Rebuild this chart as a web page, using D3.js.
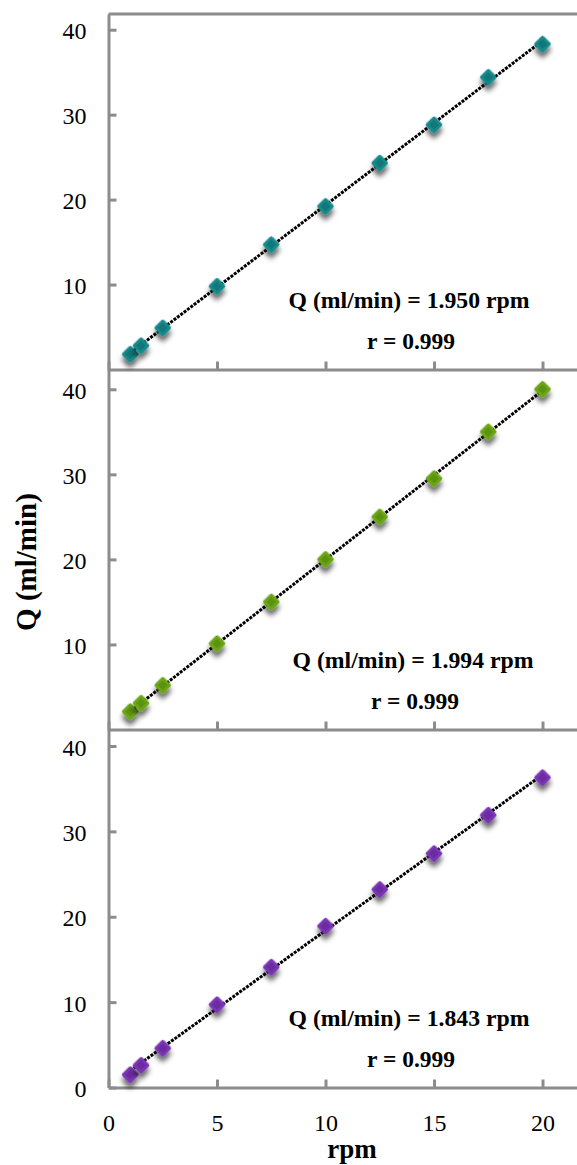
<!DOCTYPE html>
<html>
<head>
<meta charset="utf-8">
<script src="https://cdn.jsdelivr.net/npm/d3@7"></script>
<style>
  html, body { margin: 0; padding: 0; background: #fff; }
  svg { display: block; }
  text { font-family: "Liberation Serif", "Times New Roman", serif; }
</style>
</head>
<body>
<script>
// ---- data ----
const rpm = [1, 1.5, 2.5, 5, 7.5, 10, 12.5, 15, 17.5, 20];
const qTeal = [1.8, 2.8, 4.9, 9.8, 14.7, 19.2, 24.3, 28.8, 34.4, 38.3];
const qGreen = [2.1, 3.1, 5.2, 10.1, 15.0, 20.0, 25.0, 29.5, 35.0, 40.0];
const qPurple = [1.5, 2.6, 4.6, 9.7, 14.1, 18.9, 23.2, 27.4, 31.9, 36.3];
const equations = ["Q (ml/min) = 1.950 rpm", "Q (ml/min) = 1.994 rpm", "Q (ml/min) = 1.843 rpm"];
const rLabels = ["r = 0.999", "r = 0.999", "r = 0.999"];
const xTicks = [0, 5, 10, 15, 20];
const yTicksUpper = [10, 20, 30, 40];
const yTicksBottom = [0, 10, 20, 30, 40];
const xTitle = "rpm";
const yTitle = "Q (ml/min)";

// ---- layout ----
const W = 577, H = 1165;
const colors = [
  { fill: "#13898b", dark: "#0b6667" },
  { fill: "#6ba513", dark: "#4f7f09" },
  { fill: "#7a34b3", dark: "#5c2190" }
];
const panels = [
  { data: qTeal, y0: 369.5, y40: 29.7, top: 14, yTicks: yTicksUpper, eqX: 409, rX: 411, showX: false },
  { data: qGreen, y0: 729.5, y40: 389.3, top: 369, yTicks: yTicksUpper, eqX: 413, rX: 415, showX: false },
  { data: qPurple, y0: 1087.5, y40: 746, top: 729, yTicks: yTicksBottom, eqX: 409, rX: 411, showX: true }
];
const AXIS = "#8c8c8c";
const FONT = "'Liberation Serif', 'Times New Roman', serif";

const svg = d3.select("body").append("svg").attr("width", W).attr("height", H);
svg.append("rect").attr("width", W).attr("height", H).attr("fill", "#fff");

const defs = svg.append("defs");
const f = defs.append("filter").attr("id", "shadow")
  .attr("x", "-60%").attr("y", "-60%").attr("width", "240%").attr("height", "240%");
f.append("feDropShadow").attr("dx", 3.8).attr("dy", 3.8).attr("stdDeviation", 2.5)
  .attr("flood-color", "#000").attr("flood-opacity", 0.6);

const x = d3.scaleLinear().domain([0, 22]).range([108.5, 108.5 + 22 * 21.7]);

// top border of top panel
svg.append("line").attr("x1", x(0)).attr("x2", W).attr("y1", 14).attr("y2", 14)
  .attr("stroke", AXIS).attr("stroke-width", 3);

panels.forEach((p, i) => {
  const y = d3.scaleLinear().domain([0, 40]).range([p.y0, p.y40]);
  const g = svg.append("g");

  // x axis
  const xa = d3.axisBottom(x).tickValues(xTicks).tickSizeInner(-8).tickSizeOuter(0).tickPadding(22)
    .tickFormat(p.showX ? d3.format("d") : () => "");
  const gx = g.append("g").attr("transform", `translate(0,${p.y0})`).call(xa);

  // y axis
  const yTop = y.invert(p.top);
  const ya = d3.axisLeft(y.copy().domain([0, yTop]).range([p.y0, p.top]))
    .tickValues(p.yTicks).tickSizeInner(-8).tickSizeOuter(0).tickPadding(22)
    .tickFormat(d3.format("d"));
  const gy = g.append("g").attr("transform", `translate(${x(0)},0)`).call(ya);

  [gx, gy].forEach(ax => {
    ax.attr("font-family", FONT);
    ax.select(".domain").attr("stroke", AXIS).attr("stroke-width", 3);
    ax.selectAll(".tick line").attr("stroke", AXIS).attr("stroke-width", 3);
    ax.selectAll(".tick text").attr("fill", "#000").attr("font-size", 24)
      .attr("font-family", FONT);
  });
  gy.selectAll(".tick text").attr("dy", null).attr("y", 9);
  gx.selectAll(".tick text").attr("dy", null).attr("y", 43);

  // trend line (least squares fit)
  const n = rpm.length;
  const mx = d3.mean(rpm), my = d3.mean(p.data);
  let sxy = 0, sxx = 0;
  for (let k = 0; k < n; k++) { sxy += (rpm[k] - mx) * (p.data[k] - my); sxx += (rpm[k] - mx) ** 2; }
  const slope = sxy / sxx, icpt = my - slope * mx;
  const x1 = d3.min(rpm), x2 = d3.max(rpm);
  g.append("line")
    .attr("x1", x(x1)).attr("y1", y(icpt + slope * x1))
    .attr("x2", x(x2)).attr("y2", y(icpt + slope * x2))
    .attr("stroke", "#000").attr("stroke-width", 3)
    .attr("stroke-dasharray", "3 1.2");

  // markers
  const s = 12.8;
  const mk = g.append("g").selectAll("g").data(rpm.map((r, k) => [r, p.data[k]])).join("g")
    .attr("transform", d => `translate(${x(d[0])},${y(d[1])}) rotate(45)`);
  mk.append("rect").attr("x", -s / 2).attr("y", -s / 2).attr("width", s).attr("height", s)
    .attr("rx", 2.2).attr("fill", colors[i].fill).attr("filter", "url(#shadow)");
  mk.append("rect").attr("x", -s / 2 + 3).attr("y", -s / 2 + 3).attr("width", s - 6).attr("height", s - 6)
    .attr("fill", colors[i].dark).attr("opacity", 0.5);

  // equation labels
  g.append("text").attr("x", p.eqX).attr("y", p.y0 - 61.5).attr("text-anchor", "middle")
    .attr("font-size", 23.5).attr("font-weight", "bold")
    .attr("textLength", 241).attr("lengthAdjust", "spacingAndGlyphs")
    .text(equations[i]);
  g.append("text").attr("x", p.rX).attr("y", p.y0 - 20.5).attr("text-anchor", "middle")
    .attr("font-size", 23.5).attr("font-weight", "bold")
    .attr("textLength", 88).attr("lengthAdjust", "spacingAndGlyphs")
    .text(rLabels[i]);
});

// axis titles
svg.append("text").attr("x", 352).attr("y", 1158).attr("text-anchor", "middle")
  .attr("font-size", 27).attr("font-weight", "bold").text(xTitle);
svg.append("text").attr("transform", "translate(36,562) rotate(-90)").attr("text-anchor", "middle")
  .attr("font-size", 29).attr("font-weight", "bold").text(yTitle);
</script>
</body>
</html>
